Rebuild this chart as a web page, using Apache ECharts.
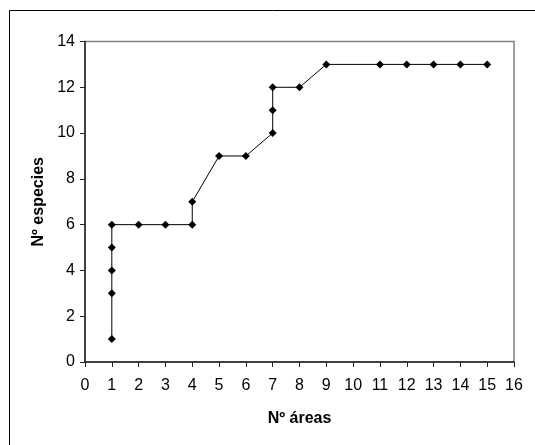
<!DOCTYPE html>
<html><head><meta charset="utf-8">
<script src="https://cdn.jsdelivr.net/npm/echarts@6/dist/echarts.min.js"></script>
<style>html,body{margin:0;padding:0;background:#fff}#c{width:535px;height:445px}</style>
</head><body><div id="c"></div>
<script>
const areas =    [1,1,1,1,1,2,3,4,4,5,6,7,7,7,8,9,11,12,13,14,15];
const especies = [1,3,4,5,6,6,6,6,7,9,9,10,11,12,12,13,13,13,13,13,13];
const xTitle = 'Nº áreas';
const yTitle = 'Nº especies';

const chart = echarts.init(document.getElementById('c'));
const font = 'Liberation Sans, Arial, sans-serif';
chart.setOption({
  animation: false,
  graphic: [{type:'rect', shape:{x:9.5,y:10.5,width:540,height:450}, style:{fill:'none',stroke:'#000',lineWidth:1}, z:-1}],
  grid: {left:85, top:41.5, right:21, bottom:83, show:true, borderColor:'#808080', borderWidth:1.5},
  xAxis: {type:'value', min:0, max:16, interval:1,
    name:xTitle, nameLocation:'middle', nameGap:49,
    nameTextStyle:{fontFamily:font, fontSize:16, fontWeight:'bold', color:'#000'},
    axisLine:{lineStyle:{color:'#222', width:1.5}},
    axisTick:{show:true, length:5, lineStyle:{color:'#222'}},
    axisLabel:{fontFamily:font, fontSize:16, color:'#000', margin:16},
    splitLine:{show:false}},
  yAxis: {type:'value', min:0, max:14, interval:2,
    name:yTitle, nameLocation:'middle', nameGap:38,
    nameTextStyle:{fontFamily:font, fontSize:16, fontWeight:'bold', color:'#000'},
    axisLine:{show:true, lineStyle:{color:'#222', width:1.5}},
    axisTick:{show:true, length:5, lineStyle:{color:'#222'}},
    axisLabel:{fontFamily:font, fontSize:16, color:'#000', margin:10},
    splitLine:{show:false}},
  series: [{type:'line', data: areas.map((a,i)=>[a, especies[i]]),
    symbol:'diamond', symbolSize:8, showAllSymbol:true,
    lineStyle:{color:'#000', width:1},
    itemStyle:{color:'#000'}}]
});
</script></body></html>
